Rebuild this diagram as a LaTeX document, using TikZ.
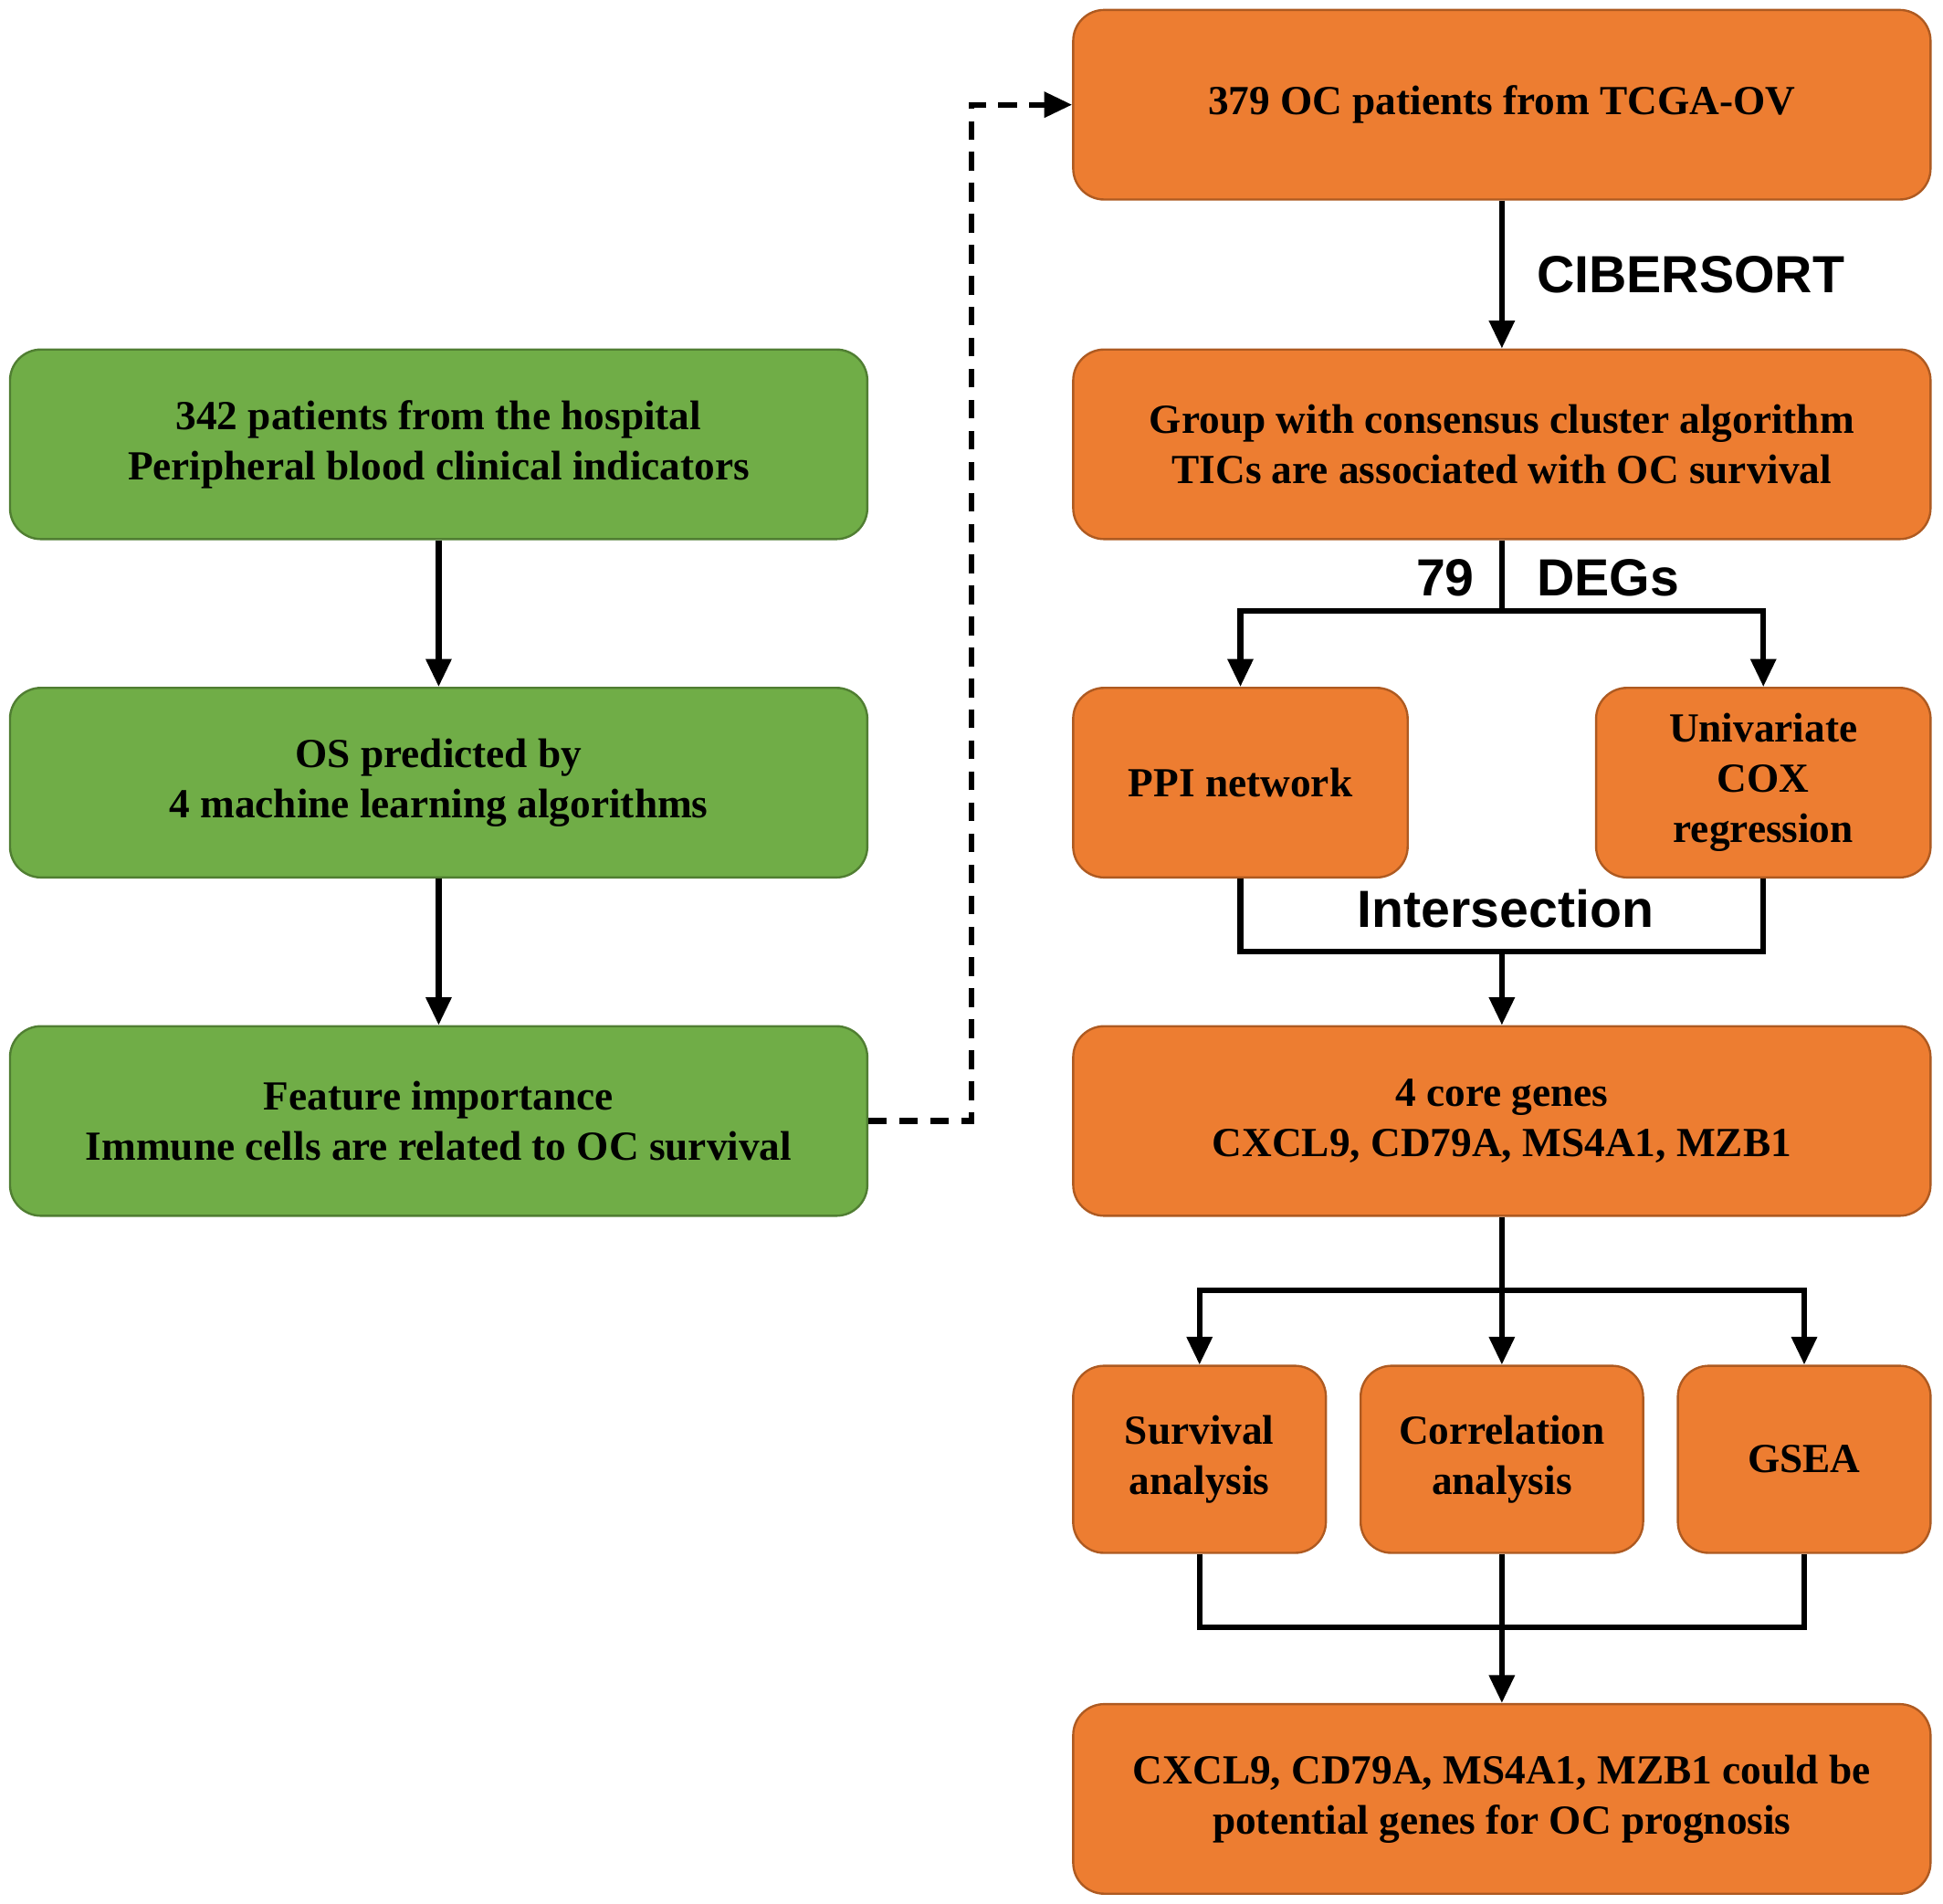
\documentclass[tikz,border=0pt]{standalone}
\usepackage{fontspec}
\setmainfont{Liberation Serif}
\newfontfamily\labelfont{Liberation Sans}
\usetikzlibrary{arrows.meta,positioning}
\definecolor{leaf}{HTML}{70AD47}
\definecolor{leafdark}{HTML}{507E32}
\definecolor{tcga}{HTML}{ED7D31}
\definecolor{tcgadark}{HTML}{AE5A21}

\begin{document}
\begin{tikzpicture}[x=0.02cm,y=-0.02cm,
		box/.style={draw, line width=1pt, rounded corners=0.5cm, align=center,
			inner sep=0pt, font=\fontsize{19}{23}\selectfont\bfseries},
		green box/.style={box, fill=leaf, draw=leafdark},
		orange box/.style={box, fill=tcga, draw=tcgadark},
		link/.style={line width=2.6pt, -{Triangle[length=0.45cm,width=0.4cm]}},
		line/.style={line width=2.6pt},
		tag/.style={font=\labelfont\fontsize{24}{28}\selectfont\bfseries}
	]
		\useasboundingbox (0,0) rectangle (1568,1536);
		% left column
		\node [green box, minimum width=13.84cm, minimum height=3.06cm] (hosp) at (354,358.5)
			{342 patients from the hospital\\Peripheral blood clinical indicators};
		\node [green box, minimum width=13.84cm, minimum height=3.06cm] (ml) at (354,631.5)
			{OS predicted by\\4 machine learning algorithms};
		\node [green box, minimum width=13.84cm, minimum height=3.06cm] (feat) at (354,904.5)
			{Feature importance\\Immune cells are related to OC survival};
		\draw [link] (hosp) -- (ml);
		\draw [link] (ml) -- (feat);
		%
		% right column
		\node [orange box, minimum width=13.84cm, minimum height=3.06cm] (tcga) at (1212,84.5)
			{379 OC patients from TCGA-OV};
		\node [orange box, minimum width=13.84cm, minimum height=3.06cm] (group) at (1212,358.5)
			{Group with consensus cluster algorithm\\TICs are associated with OC survival};
		\node [orange box, minimum width=5.4cm, minimum height=3.06cm] (ppi) at (1001,631.5)
			{PPI network};
		\node [orange box, minimum width=5.4cm, minimum height=3.06cm] (cox) at (1423,631.5)
			{Univariate\\COX\\regression};
		\node [orange box, minimum width=13.84cm, minimum height=3.06cm] (core) at (1212,904.5)
			{4 core genes\\CXCL9, CD79A, MS4A1, MZB1};
		\node [orange box, minimum width=4.08cm, minimum height=3.02cm] (surv) at (968,1177.5)
			{Survival\\analysis};
		\node [orange box, minimum width=4.56cm, minimum height=3.02cm] (corr) at (1212,1177.5)
			{Correlation\\analysis};
		\node [orange box, minimum width=4.08cm, minimum height=3.02cm] (gsea) at (1456,1177.5)
			{GSEA};
		\node [orange box, minimum width=13.84cm, minimum height=3.06cm] (final) at (1212,1451.5)
			{CXCL9, CD79A, MS4A1, MZB1 could be\\potential genes for OC prognosis};
		%
		\draw [link] (tcga) -- node [tag, right=0.4cm] {CIBERSORT} (group);
		\coordinate (split) at (1212,493);
		\draw [line] (group) -- (split);
		\node [tag, anchor=east] (n79) at (1196,466) {79};
		\node [tag, anchor=west] (degs) at (1234,466) {DEGs};
		\draw [link] (split) -| (ppi);
		\draw [link] (split) -| (cox);
		\coordinate (join) at (1212,768);
		\draw [line] (ppi.south) |- (join) -| (cox.south);
		\draw [link] (join) -- (core);
		\node [tag] (inter) at (1215,733) {Intersection};
		\coordinate (fan) at (1212,1041);
		\draw [line] (core) -- (fan);
		\draw [link] (fan) -| (surv);
		\draw [link] (fan) -- (corr);
		\draw [link] (fan) -| (gsea);
		\coordinate (merge) at (1212,1313);
		\draw [line] (surv.south) |- (merge) -| (gsea.south);
		\draw [line] (corr) -- (merge);
		\draw [link] (merge) -- (final);
		%
		\draw [link, dashed, dash pattern=on 0.3cm off 0.2cm] (feat.east) -- ++(83,0) |- (tcga.west);
	\end{tikzpicture}
\end{document}
